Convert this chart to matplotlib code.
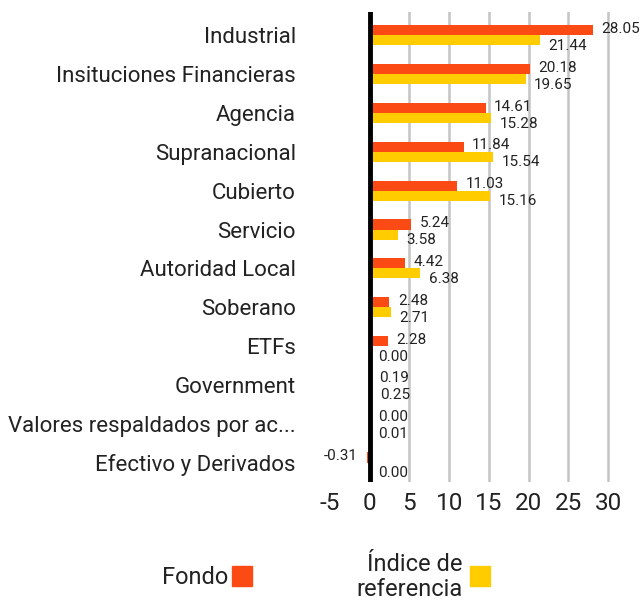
import numpy as np
import matplotlib
matplotlib.use("Agg")
import matplotlib.pyplot as plt
from matplotlib.patches import Rectangle

plt.rcParams['font.family'] = ['Roboto', 'DejaVu Sans']

# data
categories = ["Industrial", "Insituciones Financieras", "Agencia", "Supranacional",
              "Cubierto", "Servicio", "Autoridad Local", "Soberano", "ETFs",
              "Government", "Valores respaldados por ac...", "Efectivo y Derivados"]
fondo = [28.05, 20.18, 14.61, 11.84, 11.03, 5.24, 4.42, 2.48, 2.28, 0.19, 0.00, -0.31]
indice = [21.44, 19.65, 15.28, 15.54, 15.16, 3.58, 6.38, 2.71, 0.00, 0.25, 0.01, 0.00]
xticks = [-5, 0, 5, 10, 15, 20, 25, 30]

red = '#FC4A14'
yellow = '#FFCC00'

fig = plt.figure(figsize=(6.41, 6.01), dpi=100)
ax = fig.add_axes([330/641, 1 - 482/601, 286/641, 470/601])

y = np.arange(len(categories))
h = 0.26
ax.barh(y - h/2, fondo, height=h, color=red, zorder=3)
ax.barh(y + h/2, indice, height=h, color=yellow, zorder=3)

# value labels
for i in range(len(categories)):
    v = fondo[i]
    if v < 0:
        ax.annotate(f"{v:.2f}", (v, y[i] - h/2), xytext=(-7, 1), textcoords='offset points',
                    ha='right', va='center', fontsize=11, color='#222222')
    else:
        ax.annotate(f"{v:.2f}", (v, y[i] - h/2), xytext=(6, 1), textcoords='offset points',
                    ha='left', va='center', fontsize=11, color='#222222')
    v = indice[i]
    ax.annotate(f"{v:.2f}", (v, y[i] + h/2), xytext=(6, -4), textcoords='offset points',
                ha='left', va='center', fontsize=11, color='#222222')

ax.set_xlim(-5, 31)
ax.set_ylim(11.5, -0.6)
ax.set_yticks(y)
ax.set_yticklabels(categories, fontsize=16, color='#222222')
ax.set_xticks(xticks)
ax.set_xticklabels([str(t) for t in xticks], fontsize=17.5, color='#222222')
ax.tick_params(length=0)
ax.tick_params(axis='y', pad=24.5)
ax.tick_params(axis='x', pad=7)
for s in ax.spines.values():
    s.set_visible(False)
for t in xticks[2:]:
    ax.axvline(t, color='#c4c4c4', lw=1.8, zorder=1)
ax.axvline(0, color='black', lw=3.5, zorder=4)

# legend
fig.text(228/641, 1 - 577/601, "Fondo", ha='right', va='center', fontsize=17, color='#222222')
fig.patches.append(Rectangle((232/641, 1 - 586/601), 20/641, 20/601,
                             transform=fig.transFigure, color=red))
fig.text(463/641, 1 - 577/601, "Índice de\nreferencia", ha='right', va='center',
         multialignment='right', fontsize=17, color='#222222', linespacing=1.15)
fig.patches.append(Rectangle((470/641, 1 - 586/601), 20/641, 20/601,
                             transform=fig.transFigure, color=yellow))

fig.savefig("out.png", dpi=100)
